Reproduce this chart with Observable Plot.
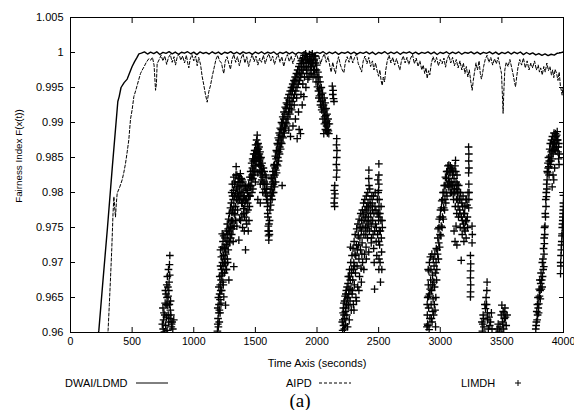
<!DOCTYPE html>
<html><head><meta charset="utf-8">
<script src="https://cdn.jsdelivr.net/npm/d3@7"></script>
<script src="https://cdn.jsdelivr.net/npm/@observablehq/plot@0.6"></script>
<style>
body{margin:0;background:#fff;}
#wrap{position:relative;width:574px;height:410px;font-family:"Liberation Sans",Arial,sans-serif;color:#000;}
.lg{position:absolute;font-size:11px;line-height:12px;top:377px;white-space:nowrap;}
.cap{position:absolute;top:391px;left:285px;width:30px;text-align:center;font-family:"Liberation Serif","Times New Roman",serif;font-size:19px;line-height:19px;}
</style></head><body><div id="wrap"></div>
<script>
const xTicks = [0,500,1000,1500,2000,2500,3000,3500,4000];
const yTicks = [0.96,0.965,0.97,0.975,0.98,0.985,0.99,0.995,1,1.005];
const seriesNames = ["DWAI/LDMD","AIPD","LIMDH"];

const dwai = [
[222,0.9594],[230,0.9603],[260,0.9667],[300,0.9750],[340,0.9838],[384,0.9930],[395,0.9937],[410,0.9950],[435,0.9957],[460,0.9962],[480,0.9971],[500,0.9980],[520,0.9987],[540,0.9993],[555,0.9998],
[575,0.99990],[600,1.00008],[625,0.99978],[650,1.00004],[675,0.99985],[700,1.00010],[725,0.99972],[750,1.00002],[775,0.99988],[800,1.00012],[825,0.99980],[850,1.00006],[875,0.99975],[900,1.00003],[925,0.99990],[950,1.00011],[975,0.99982],[1000,1.00005],[1025,0.99970],[1050,1.00008],[1075,0.99986],[1100,1.00002],[1125,0.99978],[1150,1.00010],[1175,0.99984],[1200,1.00006],[1225,0.99974],[1250,1.00003],[1275,0.99989],[1300,1.00012],[1325,0.99980],[1350,1.00004],[1375,0.99976],[1400,1.00009],[1425,0.99987],[1450,1.00001],[1475,0.99973],[1500,1.00007],[1525,0.99985],[1550,1.00011],[1575,0.99979],[1600,1.00004],[1625,0.99988],[1650,1.00008],[1675,0.99972],[1700,1.00003],[1725,0.99986],[1750,1.00010],[1775,0.99980],[1800,1.00005],[1825,0.99975],[1850,1.00002],[1875,0.99990],[1900,1.00009],[1925,0.99982],[1950,1.00006],[1975,0.99971],[2000,1.00003],[2025,0.99987],[2050,1.00011],[2075,0.99978],[2100,1.00004],[2125,0.99984],[2150,1.00008],[2175,0.99973],[2200,1.00002],[2225,0.99989],[2250,1.00010],[2275,0.99981],[2300,1.00005],[2325,0.99976],[2350,1.00003],[2375,0.99988],[2400,1.00009],[2425,0.99980],[2450,1.00006],[2475,0.99972],[2500,1.00002],[2525,0.99986],[2550,1.00011],[2575,0.99979],[2600,1.00004],[2625,0.99985],[2650,1.00008],[2675,0.99974],[2700,1.00003],[2725,0.99990],[2750,1.00010],[2775,0.99982],[2800,1.00005],[2825,0.99977],[2850,1.00001],[2875,0.99988],[2900,1.00009],[2925,0.99981],[2950,1.00006],[2975,0.99972],[3000,1.00003],[3025,0.99986],[3050,1.00010],[3075,0.99979],[3100,1.00004],[3125,0.99984],[3150,1.00008],[3175,0.99975],[3200,1.00002],[3225,0.99989],[3250,1.00009],[3275,0.99980],[3300,1.00005],[3325,0.99976],[3350,1.00003],[3375,0.99987],[3400,1.00010],[3425,0.99981],[3450,1.00006],[3475,0.99973],[3500,1.00002],[3525,0.99985],[3550,1.00008],[3575,0.99978],[3600,1.00004],[3625,0.99983],[3650,1.00007],[3675,0.99970],[3700,1.00000],[3725,0.99975],[3750,0.99995],[3775,0.99965],[3800,0.99985],[3825,0.99960],[3850,0.99980],[3875,0.99955],[3900,0.99975],[3925,0.99962],[3950,0.99990],[3975,0.99995],[4000,1.00010]
];

const aipd = [
[300,0.9595],[305,0.9603],[315,0.9640],[325,0.9679],[335,0.9720],[345,0.9770],[352,0.9794],[358,0.9780],[365,0.9765],[372,0.9785],[379,0.9799],[400,0.9808],[419,0.9818],[432,0.9828],[446,0.9841],[460,0.9858],[473,0.9875],[487,0.9905],[500,0.9918],[514,0.9937],[528,0.9945],[541,0.9953],[555,0.9962],[568,0.9970],[582,0.9975],[595,0.9979],[615,0.9986],[635,0.9991],[650,0.9989],[665,0.9993],[678,0.9982],[690,0.9946],[697,0.9955],[703,0.9984],
[720,0.9990],[735,0.9996],[750,0.9988],[765,0.9995],[780,0.9983],[795,0.9993],[810,0.9997],[825,0.9986],[840,0.9994],[852,0.9982],[865,0.9993],[880,0.9998],[895,0.9989],[910,0.9995],[925,0.9985],[940,0.9996],[952,0.9984],[960,0.9978],[970,0.9990],[985,0.9997],[1000,0.9988],[1015,0.9995],[1028,0.9981],[1040,0.9993],[1055,0.9983],[1068,0.9966],[1080,0.9955],[1095,0.9940],[1109,0.9929],[1122,0.9944],[1136,0.9953],[1150,0.9966],[1165,0.9978],[1180,0.9990],[1195,0.9996],[1210,0.9988],[1225,0.9985],[1236,0.9975],[1244,0.9970],[1255,0.9987],[1270,0.9994],[1285,0.9984],[1298,0.9976],[1310,0.9990],[1325,0.9997],[1340,0.9986],[1355,0.9994],[1370,0.9981],[1385,0.9992],[1400,0.9998],[1415,0.9985],[1430,0.9994],[1445,0.9980],[1460,0.9990],[1475,0.9997],[1490,0.9987],[1505,0.9995],[1520,0.9982],[1535,0.9992],[1550,0.9986],[1565,0.9996],[1580,0.9984],[1595,0.9993],[1610,0.9998],[1625,0.9988],[1640,0.9995],[1655,0.9983],[1670,0.9992],[1685,0.9997],[1700,0.9986],[1715,0.9994],[1730,0.9980],[1745,0.9991],[1760,0.9997],[1775,0.9987],[1790,0.9995],[1805,0.9984],[1820,0.9993],[1835,0.9998],[1850,0.9988],[1865,0.9994],[1880,0.9983],[1895,0.9992],[1910,0.9997],[1925,0.9986],[1940,0.9994],[1955,0.9982],[1970,0.9991],[1985,0.9997],[2000,0.9987],[2015,0.9995],[2030,0.9984],[2045,0.9993],[2060,0.9998],[2075,0.9986],[2090,0.9994],[2105,0.9980],[2115,0.9972],[2128,0.9986],[2140,0.9976],[2150,0.9970],[2162,0.9985],[2175,0.9994],[2190,0.9982],[2205,0.9975],[2218,0.9971],[2230,0.9986],[2245,0.9994],[2260,0.9986],[2275,0.9996],[2290,0.9985],[2305,0.9993],[2320,0.9998],[2335,0.9984],[2350,0.9978],[2362,0.9972],[2375,0.9988],[2390,0.9995],[2405,0.9984],[2420,0.9993],[2435,0.9980],[2450,0.9988],[2462,0.9975],[2475,0.9985],[2490,0.9972],[2500,0.9966],[2510,0.9975],[2520,0.9960],[2529,0.9953],[2538,0.9965],[2548,0.9958],[2558,0.9975],[2570,0.9988],[2585,0.9996],[2600,0.9985],[2615,0.9993],[2630,0.9982],[2645,0.9991],[2660,0.9982],[2672,0.9975],[2685,0.9988],[2700,0.9995],[2715,0.9985],[2730,0.9993],[2745,0.9983],[2760,0.9992],[2775,0.9997],[2790,0.9984],[2805,0.9992],[2820,0.9980],[2835,0.9988],[2850,0.9975],[2862,0.9982],[2874,0.9970],[2885,0.9978],[2894,0.9963],[2905,0.9974],[2915,0.9968],[2928,0.9985],[2942,0.9994],[2956,0.9986],[2970,0.9993],[2985,0.9981],[3000,0.9990],[3015,0.9984],[3030,0.9992],[3043,0.9979],[3055,0.9990],[3070,0.9996],[3085,0.9985],[3100,0.9993],[3115,0.9981],[3130,0.9990],[3145,0.9978],[3160,0.9988],[3175,0.9975],[3188,0.9985],[3200,0.9970],[3212,0.9980],[3224,0.9965],[3236,0.9975],[3248,0.9958],[3259,0.9946],[3268,0.9960],[3278,0.9972],[3290,0.9985],[3302,0.9975],[3315,0.9988],[3325,0.9970],[3334,0.9962],[3343,0.9970],[3352,0.9980],[3365,0.9990],[3380,0.9996],[3395,0.9986],[3410,0.9993],[3425,0.9982],[3440,0.9991],[3455,0.9984],[3470,0.9993],[3485,0.9980],[3497,0.9970],[3504,0.9940],[3510,0.9913],[3516,0.9945],[3524,0.9975],[3535,0.9986],[3550,0.9980],[3565,0.9990],[3580,0.9978],[3592,0.9968],[3602,0.9958],[3611,0.9951],[3620,0.9965],[3630,0.9978],[3645,0.9990],[3660,0.9982],[3675,0.9992],[3690,0.9978],[3705,0.9988],[3720,0.9975],[3735,0.9985],[3750,0.9978],[3765,0.9988],[3780,0.9975],[3795,0.9982],[3805,0.9972],[3815,0.9978],[3828,0.9968],[3840,0.9980],[3852,0.9972],[3865,0.9985],[3878,0.9974],[3890,0.9980],[3902,0.9968],[3912,0.9975],[3921,0.9964],[3932,0.9976],[3944,0.9970],[3955,0.9960],[3965,0.9972],[3975,0.9952],[3983,0.9945],[3989,0.9939],[3995,0.9950],[4000,0.9946]
];

const limdh = [
[745,0.9612],[752,0.9605],[758,0.9628],[762,0.9601],[768,0.9642],[772,0.9610],[775,0.9655],[778,0.9622],[781,0.9668],[784,0.9603],[786,0.9680],[789,0.9639],[792,0.9652],[795,0.9690],[797,0.9615],[800,0.9672],[803,0.9697],[806,0.9710],[808,0.9620],[812,0.9645],[818,0.9608],[825,0.9615],[838,0.9618],
[750,0.9635],[755,0.9618],[765,0.9625],[770,0.9660],[777,0.9640],[783,0.9650],[790,0.9665],[793,0.9625],[798,0.9660],[802,0.9640],[805,0.9682],[810,0.9632],[815,0.9625],[820,0.9612],[830,0.9605],
[1192,0.9602],[1195,0.9612],[1197,0.9620],[1200,0.9608],[1203,0.9628],[1205,0.9640],[1208,0.9632],[1210,0.9655],[1213,0.9647],[1215,0.9668],[1217,0.9718],[1219,0.9660],[1222,0.9675],[1225,0.9690],[1228,0.9682],[1231,0.9741],[1233,0.9700],[1236,0.9672],[1238,0.9695],[1241,0.9710],[1244,0.9651],[1246,0.9705],[1249,0.9685],[1252,0.9720],[1255,0.9698],[1258,0.9639],[1260,0.9712],[1263,0.9726],[1266,0.9690],[1270,0.9732],[1273,0.9705],[1276,0.9740],[1280,0.9718],[1285,0.9675],[1288,0.9745],[1292,0.9728],[1296,0.9752],[1300,0.9735],[1305,0.9760],[1312,0.9760],[1318,0.9748],[1325,0.9694],[1328,0.9770],
[1195,0.9635],[1200,0.9650],[1204,0.9665],[1207,0.9615],[1211,0.9680],[1214,0.9628],[1218,0.9695],[1221,0.9642],[1224,0.9708],[1227,0.9660],[1230,0.9722],[1234,0.9685],[1237,0.9730],[1240,0.9668],[1243,0.9738],[1247,0.9722],[1250,0.9700],[1254,0.9735],[1257,0.9715],[1261,0.9690],[1265,0.9745],[1268,0.9725],[1272,0.9755],[1275,0.9700],[1279,0.9748],[1283,0.9762],[1287,0.9730],[1290,0.9770],[1294,0.9742],[1298,0.9778],[1302,0.9750],[1308,0.9740],[1315,0.9775],[1320,0.9730],[1328,0.9752],
[1305,0.9785],[1310,0.9772],[1315,0.9795],[1318,0.9758],[1322,0.9803],[1326,0.9780],[1330,0.9812],[1334,0.9768],[1338,0.9798],[1342,0.9825],[1344,0.9837],[1348,0.9790],[1352,0.9808],[1356,0.9775],[1360,0.9815],[1364,0.9795],[1366,0.9732],[1370,0.9820],[1374,0.9802],[1378,0.9827],[1380,0.9760],[1384,0.9810],[1388,0.9785],[1392,0.9818],[1396,0.9750],[1400,0.9800],[1404,0.9777],[1408,0.9810],[1412,0.9765],[1416,0.9790],[1420,0.9718],[1424,0.9805],[1428,0.9772],[1433,0.9803],[1438,0.9785],[1442,0.9745],[1446,0.9812],[1450,0.9795],[1455,0.9822],[1460,0.9808],
[1308,0.9800],[1313,0.9812],[1320,0.9790],[1325,0.9822],[1332,0.9795],[1336,0.9815],[1340,0.9780],[1346,0.9805],[1350,0.9825],[1354,0.9798],[1358,0.9788],[1362,0.9820],[1368,0.9808],[1372,0.9790],[1376,0.9815],[1382,0.9795],[1386,0.9820],[1390,0.9800],[1394,0.9785],[1398,0.9815],[1402,0.9792],[1406,0.9770],[1410,0.9795],[1414,0.9780],[1418,0.9808],[1422,0.9788],[1426,0.9760],[1430,0.9790],[1436,0.9800],[1440,0.9775],[1444,0.9795],[1448,0.9810],[1452,0.9780],[1458,0.9795],[1340,0.9760],[1350,0.9752],[1372,0.9762],[1390,0.9768],[1410,0.9745],[1430,0.9755],[1448,0.9760],
[1462,0.9830],[1466,0.9818],[1470,0.9842],[1474,0.9825],[1478,0.9848],[1482,0.9832],[1486,0.9855],[1490,0.9838],[1494,0.9860],[1498,0.9845],[1502,0.9868],[1506,0.9850],[1510,0.9875],[1515,0.9882],[1518,0.9862],[1522,0.9870],[1526,0.9852],[1530,0.9865],[1534,0.9845],[1538,0.9858],[1542,0.9838],[1546,0.9850],[1550,0.9830],[1555,0.9842],[1560,0.9822],[1565,0.9835],[1480,0.9805],[1500,0.9815],[1520,0.9828],[1540,0.9812],[1560,0.9800],
[1464,0.9810],[1468,0.9822],[1472,0.9800],[1476,0.9835],[1480,0.9820],[1484,0.9845],[1488,0.9825],[1492,0.9848],[1496,0.9830],[1500,0.9855],[1504,0.9838],[1508,0.9860],[1512,0.9845],[1516,0.9868],[1520,0.9852],[1524,0.9862],[1528,0.9840],[1532,0.9855],[1536,0.9832],[1540,0.9848],[1544,0.9825],[1548,0.9838],[1552,0.9818],[1557,0.9830],[1562,0.9812],
[1570,0.9815],[1575,0.9805],[1580,0.9825],[1585,0.9798],[1590,0.9790],[1594,0.9812],[1598,0.9780],[1602,0.9765],[1605,0.9752],[1609,0.9732],[1612,0.9745],[1615,0.9760],[1618,0.9775],[1622,0.9790],[1626,0.9805],[1630,0.9795],[1634,0.9820],[1638,0.9800],[1642,0.9830],[1646,0.9812],[1650,0.9838],[1520,0.9790],[1540,0.9785],[1600,0.9785],
[1572,0.9830],[1578,0.9812],[1582,0.9800],[1588,0.9822],[1592,0.9805],[1596,0.9795],[1600,0.9770],[1604,0.9745],[1607,0.9738],[1610,0.9755],[1614,0.9740],[1620,0.9800],[1624,0.9782],[1628,0.9820],[1632,0.9808],[1636,0.9790],[1640,0.9815],[1644,0.9825],[1648,0.9800],
[1652,0.9822],[1656,0.9808],[1660,0.9835],[1664,0.9815],[1668,0.9848],[1672,0.9828],[1676,0.9858],[1680,0.9838],[1684,0.9868],[1688,0.9845],[1692,0.9875],[1696,0.9855],[1700,0.9882],[1705,0.9862],[1710,0.9890],[1714,0.9870],[1717,0.9810],[1720,0.9898],[1725,0.9878],[1730,0.9905],[1735,0.9885],[1740,0.9912],[1745,0.9892],[1750,0.9920],[1755,0.9898],[1760,0.9926],[1765,0.9905],[1771,0.9889],[1775,0.9932],[1780,0.9912],[1785,0.9880],[1790,0.9940],[1795,0.9918],[1800,0.9946],[1805,0.9895],[1810,0.9952],[1815,0.9925],[1820,0.9958],[1825,0.9905],[1830,0.9962],[1835,0.9935],[1839,0.9877],[1845,0.9968],[1850,0.9915],[1855,0.9890],[1860,0.9972],[1866,0.9884],[1870,0.9940],[1875,0.9978],[1880,0.9925],[1885,0.9955],[1890,0.9985],[1893,0.9937],[1898,0.9965],[1905,0.9990],[1910,0.9950],[1915,0.9975],[1920,0.9994],[1926,0.9962],[1932,0.9985],[1938,0.9997],[1944,0.9970],[1950,0.9992],[1956,0.9980],[1962,0.9998],[1968,0.9965],[1974,0.9988],[1980,0.9975],[1986,0.9995],[1992,0.9958],[1998,0.9982],[2004,0.9951],
[1654,0.9840],[1658,0.9825],[1662,0.9852],[1666,0.9832],[1670,0.9860],[1674,0.9840],[1678,0.9870],[1682,0.9850],[1686,0.9878],[1690,0.9858],[1694,0.9885],[1698,0.9865],[1702,0.9892],[1707,0.9872],[1712,0.9900],[1716,0.9880],[1722,0.9908],[1727,0.9888],[1732,0.9915],[1737,0.9895],[1742,0.9922],[1747,0.9900],[1752,0.9928],[1757,0.9908],[1762,0.9935],[1768,0.9915],[1773,0.9940],[1778,0.9920],[1783,0.9945],[1788,0.9925],[1793,0.9950],[1798,0.9930],[1803,0.9955],[1808,0.9935],[1813,0.9960],[1818,0.9940],[1823,0.9965],[1828,0.9945],[1833,0.9970],[1838,0.9950],[1843,0.9975],[1848,0.9955],[1853,0.9980],[1858,0.9960],[1863,0.9984],[1868,0.9965],[1873,0.9988],[1878,0.9970],[1883,0.9992],[1888,0.9975],[1895,0.9996],[1902,0.9980],[1908,0.9998],[1913,0.9985],[1918,0.9970],[1923,0.9990],[1928,0.9978],[1935,0.9965],[1940,0.9988],[1947,0.9980],[1953,0.9970],[1958,0.9990],[1965,0.9985],[1971,0.9975],[1977,0.9995],[1983,0.9968],[1989,0.9985],[1995,0.9975],[2001,0.9965],
[2008,0.9972],[2012,0.9945],[2016,0.9965],[2020,0.9938],[2025,0.9958],[2030,0.9930],[2035,0.9950],[2040,0.9922],[2045,0.9942],[2050,0.9915],[2055,0.9884],[2058,0.9935],[2062,0.9908],[2066,0.9928],[2070,0.9900],[2074,0.9920],[2078,0.9895],[2082,0.9912],[2086,0.9890],[2090,0.9905],[2096,0.9884],[2100,0.9898],
[2010,0.9958],[2015,0.9935],[2022,0.9948],[2028,0.9925],[2033,0.9940],[2038,0.9918],[2043,0.9932],[2048,0.9905],[2053,0.9925],[2060,0.9898],[2064,0.9918],[2068,0.9890],[2072,0.9910],[2076,0.9888],[2080,0.9902],[2084,0.9885],[2088,0.9898],[2092,0.9888],
[2124,0.9952],[2128,0.9940],[2131,0.9946],[2134,0.9934],[2138,0.9930],[2160,0.9877],[2158,0.9868],[2162,0.9860],[2160,0.9850],[2157,0.9840],[2161,0.9832],[2158,0.9822],[2144,0.9810],[2140,0.9803],[2146,0.9798],[2142,0.9792],[2139,0.9785],[2143,0.9780],
[2205,0.9615],[2208,0.9603],[2212,0.9628],[2215,0.9610],[2218,0.9642],[2222,0.9605],[2225,0.9620],[2228,0.9652],[2232,0.9612],[2235,0.9635],[2238,0.9660],[2242,0.9625],[2245,0.9648],[2248,0.9608],[2252,0.9670],[2255,0.9638],[2258,0.9655],[2262,0.9618],[2265,0.9680],[2268,0.9645],[2272,0.9722],[2275,0.9662],[2278,0.9632],[2282,0.9690],[2285,0.9655],[2290,0.9675],[2295,0.9640],[2299,0.9700],[2303,0.9668],[2308,0.9712],[2312,0.9685],[2316,0.9650],[2320,0.9725],[2325,0.9695],[2330,0.9665],[2335,0.9738],[2340,0.9705],[2345,0.9680],[2350,0.9750],[2353,0.9718],[2358,0.9692],[2362,0.9760],[2366,0.9728],[2370,0.9700],[2375,0.9768],[2380,0.9740],[2385,0.9712],[2390,0.9775],[2394,0.9750],[2398,0.9722],[2402,0.9780],[2406,0.9758],[2410,0.9735],[2414,0.9785],[2418,0.9765],[2421,0.9832],[2425,0.9745],[2430,0.9790],[2435,0.9770],[2440,0.9752],[2445,0.9795],[2450,0.9775],[2455,0.9740],[2460,0.9720],[2464,0.9700],[2467,0.9662],[2470,0.9780],[2475,0.9755],[2480,0.9730],[2485,0.9710],[2490,0.9790],[2494,0.9818],[2498,0.9770],[2502,0.9841],[2505,0.9745],[2508,0.9725],[2512,0.9700],[2515,0.9672],[2518,0.9760],[2522,0.9735],[2526,0.9690],[2530,0.9750],[2500,0.9803],
[2210,0.9618],[2214,0.9635],[2220,0.9625],[2224,0.9645],[2230,0.9630],[2234,0.9655],[2240,0.9640],[2244,0.9665],[2250,0.9650],[2254,0.9680],[2260,0.9662],[2264,0.9690],[2270,0.9675],[2274,0.9700],[2280,0.9685],[2284,0.9710],[2288,0.9660],[2292,0.9720],[2297,0.9690],[2301,0.9730],[2306,0.9695],[2310,0.9740],[2315,0.9710],[2322,0.9748],[2328,0.9718],[2332,0.9755],[2338,0.9725],[2342,0.9762],[2348,0.9735],[2355,0.9770],[2360,0.9745],[2364,0.9712],[2368,0.9775],[2372,0.9752],[2378,0.9785],[2382,0.9760],[2388,0.9790],[2392,0.9765],[2396,0.9740],[2400,0.9795],[2404,0.9772],[2408,0.9748],[2412,0.9800],[2416,0.9778],[2420,0.9755],[2428,0.9805],[2432,0.9782],[2438,0.9760],[2442,0.9735],[2448,0.9785],[2452,0.9760],[2458,0.9795],[2462,0.9770],[2468,0.9745],[2472,0.9800],[2478,0.9775],[2482,0.9750],[2488,0.9770],[2492,0.9740],[2496,0.9800],[2500,0.9760],[2504,0.9790],[2510,0.9770],[2514,0.9745],[2520,0.9780],[2524,0.9715],[2528,0.9760],
[2300,0.9632],[2320,0.9645],[2340,0.9660],[2360,0.9672],[2380,0.9690],[2400,0.9705],[2420,0.9715],[2440,0.9728],[2502,0.9825],[2502,0.9812],[2503,0.9780],[2502,0.9765],[2501,0.9730],[2503,0.9705],[2502,0.9690],[2420,0.9820],[2422,0.9810],
[2892,0.9608],[2895,0.9625],[2898,0.9650],[2900,0.9610],[2903,0.9668],[2906,0.9635],[2908,0.9688],[2910,0.9604],[2913,0.9655],[2916,0.9620],[2920,0.9708],[2922,0.9675],[2926,0.9640],[2930,0.9660],[2934,0.9615],[2938,0.9682],[2942,0.9648],[2946,0.9625],[2950,0.9695],[2954,0.9665],[2958,0.9632],[2962,0.9608],[2966,0.9700],[2970,0.9675],[2975,0.9718],
[2894,0.9640],[2897,0.9612],[2902,0.9690],[2905,0.9652],[2912,0.9700],[2918,0.9662],[2924,0.9690],[2928,0.9620],[2932,0.9712],[2936,0.9668],[2940,0.9630],[2944,0.9705],[2948,0.9672],[2952,0.9640],[2956,0.9712],[2960,0.9685],[2964,0.9650],[2968,0.9720],[2972,0.9690],[2978,0.9712],
[2980,0.9735],[2985,0.9705],[2990,0.9750],[2995,0.9722],[3000,0.9765],[3005,0.9738],[3010,0.9778],[3015,0.9750],[3020,0.9790],[3025,0.9762],[3030,0.9800],[3035,0.9775],[3040,0.9810],[3045,0.9785],[3050,0.9820],[3055,0.9795],
[2982,0.9748],[2988,0.9728],[2992,0.9762],[2998,0.9740],[3002,0.9775],[3008,0.9752],[3012,0.9788],[3018,0.9765],[3022,0.9800],[3028,0.9778],[3032,0.9810],[3038,0.9790],[3042,0.9822],[3048,0.9800],[3052,0.9830],[3058,0.9812],
[3060,0.9830],[3065,0.9808],[3070,0.9839],[3075,0.9815],[3080,0.9828],[3085,0.9800],[3090,0.9835],[3095,0.9812],[3100,0.9825],[3105,0.9798],[3110,0.9830],[3115,0.9805],[3120,0.9838],[3124,0.9846],[3128,0.9815],[3132,0.9790],[3136,0.9825],[3140,0.9800],[3145,0.9780],[3150,0.9810],[3155,0.9790],[3160,0.9770],[3165,0.9800],[3170,0.9703],[3175,0.9785],[3180,0.9760],[3185,0.9795],[3190,0.9770],[3195,0.9748],[3200,0.9780],[3205,0.9758],[3210,0.9735],[3215,0.9790],[3220,0.9765],[3225,0.9800],[3112,0.9745],[3120,0.9730],[3128,0.9752],[3135,0.9725],
[3062,0.9838],[3068,0.9820],[3072,0.9830],[3078,0.9808],[3082,0.9838],[3088,0.9815],[3092,0.9800],[3098,0.9832],[3102,0.9810],[3108,0.9790],[3112,0.9820],[3118,0.9800],[3122,0.9780],[3126,0.9830],[3130,0.9805],[3134,0.9770],[3138,0.9812],[3142,0.9790],[3148,0.9765],[3152,0.9800],[3158,0.9775],[3162,0.9750],[3168,0.9790],[3172,0.9765],[3178,0.9740],[3182,0.9780],[3188,0.9755],[3192,0.9730],[3198,0.9770],[3202,0.9745],[3208,0.9790],[3212,0.9760],[3218,0.9782],[3222,0.9750],
[3230,0.9865],[3232,0.9855],[3231,0.9845],[3233,0.9835],[3230,0.9828],[3232,0.9812],[3234,0.9800],[3232,0.9790],[3231,0.9778],[3258,0.9752],[3260,0.9740],[3258,0.9728],[3245,0.9710],[3247,0.9698],[3246,0.9688],[3245,0.9678],[3247,0.9668],[3246,0.9658],[3245,0.9651],
[3338,0.9615],[3342,0.9602],[3348,0.9625],[3355,0.9608],[3362,0.9640],[3367,0.9634],[3372,0.9650],[3378,0.9660],[3380,0.9672],[3384,0.9618],[3390,0.9605],[3396,0.9622],[3402,0.9610],[3408,0.9615],[3415,0.9628],[3420,0.9605],[3345,0.9612],[3352,0.9620],[3376,0.9640],[3382,0.9628],
[3462,0.9605],[3470,0.9612],[3478,0.9602],[3485,0.9608],[3495,0.9625],[3500,0.9639],[3504,0.9615],[3510,0.9630],[3515,0.9605],[3520,0.9620],[3525,0.9635],[3529,0.9622],[3535,0.9610],[3542,0.9625],[3508,0.9612],[3518,0.9628],
[3775,0.9605],[3780,0.9615],[3786,0.9618],[3790,0.9625],[3795,0.9635],[3800,0.9641],[3805,0.9652],[3810,0.9660],[3815,0.9670],[3820,0.9662],[3827,0.9665],[3830,0.9680],[3835,0.9690],[3840,0.9694],[3842,0.9712],[3845,0.9727],[3848,0.9740],[3850,0.9752],[3854,0.9765],[3858,0.9780],[3862,0.9794],[3865,0.9805],[3867,0.9818],[3872,0.9828],[3876,0.9835],[3881,0.9837],[3885,0.9845],[3890,0.9852],[3895,0.9840],[3900,0.9858],[3905,0.9848],[3908,0.9860],[3912,0.9868],[3916,0.9855],[3920,0.9872],[3921,0.9818],[3925,0.9862],[3930,0.9878],[3935,0.9884],[3940,0.9870],[3945,0.9882],[3949,0.9887],[3953,0.9875],[3958,0.9865],[3962,0.9870],[3966,0.9855],[3908,0.9808],[3915,0.9825],[3928,0.9835],
[3778,0.9610],[3783,0.9630],[3788,0.9640],[3793,0.9650],[3798,0.9628],[3803,0.9662],[3808,0.9675],[3812,0.9648],[3818,0.9685],[3823,0.9675],[3828,0.9700],[3833,0.9705],[3838,0.9720],[3843,0.9735],[3846,0.9750],[3852,0.9770],[3856,0.9790],[3860,0.9800],[3863,0.9812],[3868,0.9830],[3874,0.9842],[3878,0.9850],[3883,0.9825],[3888,0.9862],[3893,0.9870],[3898,0.9845],[3903,0.9875],[3910,0.9880],[3918,0.9865],[3923,0.9885],[3928,0.9870],[3933,0.9860],[3938,0.9880],[3943,0.9865],[3948,0.9875],[3955,0.9858],[3960,0.9848],[3964,0.9840],
[3976,0.9684],[3978,0.9695],[3980,0.9710],[3984,0.9725],[3987,0.9738],[3989,0.9741],[3992,0.9755],[3995,0.9765],[3998,0.9775],[4000,0.9796],[3999,0.9785],[3977,0.9700],[3982,0.9718],[3986,0.9730],[3990,0.9750],[3994,0.9760],[3997,0.9770],[4000,0.9780]
];

const fmtY = d => String(+d.toFixed(3));
const fmtX = d => String(d);
const chart = Plot.plot({
  width: 574, height: 372,
  marginLeft: 70, marginRight: 11, marginTop: 17, marginBottom: 40,
  style: {fontFamily: '"Liberation Sans", Arial, sans-serif', fontSize: "11px", color: "black", background: "white", overflow: "visible"},
  x: {domain: [0, 4000]},
  y: {domain: [0.96, 1.005]},
  marks: [
    Plot.line(dwai, {x: d => d[0], y: d => d[1], stroke: "black", strokeWidth: 1.4, clip: true}),
    Plot.line(aipd, {x: d => d[0], y: d => d[1], stroke: "black", strokeWidth: 1, strokeDasharray: "3,2", clip: true}),
    Plot.dot(limdh, {x: d => d[0], y: d => d[1], symbol: "plus", r: 2.6, stroke: "black", strokeWidth: 1.3, clip: true}),
    Plot.frame({stroke: "black", strokeWidth: 1}),
    Plot.axisX({anchor: "bottom", ticks: xTicks, tickSize: 0, tickPadding: 5, tickFormat: fmtX, label: null, fontSize: 10.6}),
    Plot.axisX({anchor: "bottom", ticks: xTicks, tickSize: -5, tickFormat: () => "", label: null}),
    Plot.axisX({anchor: "top", ticks: xTicks, tickSize: -5, tickFormat: () => "", label: null}),
    Plot.axisY({anchor: "left", ticks: yTicks, tickSize: 0, tickPadding: 7, tickFormat: fmtY, label: null}),
    Plot.axisY({anchor: "left", ticks: yTicks, tickSize: -5, tickFormat: () => "", label: null}),
    Plot.axisY({anchor: "right", ticks: yTicks, tickSize: -5, tickFormat: () => "", label: null}),
    Plot.text(["Time Axis (seconds)"], {frameAnchor: "bottom", dy: 31, lineAnchor: "middle", textAnchor: "middle", fontSize: 11}),
    Plot.text(["Fairness Index F(x(t))"], {frameAnchor: "left", dx: -52, dy: -19, rotate: -90, textAnchor: "middle", lineAnchor: "middle", fontSize: 9.8})
  ]
});
const wrap = document.getElementById("wrap");
wrap.appendChild(chart);

function legendItem(name, left, sampleLeft, kind) {
  const t = document.createElement("div");
  t.className = "lg"; t.style.left = left + "px"; t.textContent = name;
  wrap.appendChild(t);
  const ns = "http://www.w3.org/2000/svg";
  const s = document.createElementNS(ns, "svg");
  s.setAttribute("width", 36); s.setAttribute("height", 10);
  s.style.position = "absolute"; s.style.left = sampleLeft + "px"; s.style.top = "378px";
  if (kind === "plus") {
    const p = document.createElementNS(ns, "path");
    p.setAttribute("d", "M0,5h6M3,2v6"); p.setAttribute("stroke", "black"); p.setAttribute("stroke-width", "1");
    s.appendChild(p);
  } else {
    const l = document.createElementNS(ns, "line");
    l.setAttribute("x1", 0); l.setAttribute("x2", 32); l.setAttribute("y1", 5); l.setAttribute("y2", 5);
    l.setAttribute("stroke", "black"); l.setAttribute("stroke-width", "1");
    if (kind === "dash") l.setAttribute("stroke-dasharray", "3,2");
    s.appendChild(l);
  }
  wrap.appendChild(s);
}
legendItem(seriesNames[0], 65, 136, "solid");
legendItem(seriesNames[1], 286, 319, "dash");
legendItem(seriesNames[2], 461, 515, "plus");

const cap = document.createElement("div");
cap.className = "cap"; cap.textContent = "(a)";
wrap.appendChild(cap);
</script>
</body></html>
